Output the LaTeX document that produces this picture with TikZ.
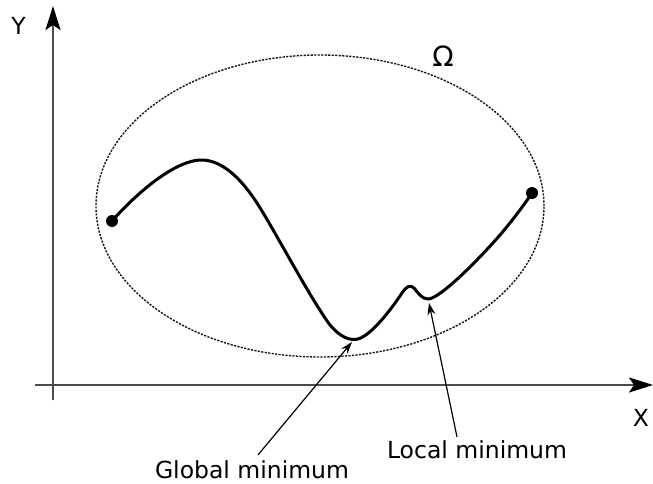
\documentclass[tikz,border=0pt]{standalone}
\usepackage{fontspec}
\setmainfont{DejaVu Sans}
\usepackage{tikz}
\usetikzlibrary{arrows.meta}

\begin{document}
\begin{tikzpicture}[x=1pt, y=1pt,
  axis/.style={line width=2.4pt, draw=black!70,
               -{Stealth[length=24pt, width=15pt, inset=5pt, black]}},
  region/.style={draw=black!90, line width=1.4pt, dash pattern=on 2.2pt off 1.3pt},
  fcurve/.style={line width=3pt, line cap=round, line join=round},
  ptr/.style={line width=1.2pt, -{Stealth[length=12pt, width=8pt]}},
  lbl/.style={font=\fontsize{23.5}{28}\selectfont, inner sep=0pt}]
\useasboundingbox (0,0) rectangle (653,483);
% axes
\coordinate (ybot) at (53,83);
\coordinate (ytop) at (53,477);
\coordinate (xlft) at (35,98);
\coordinate (xrgt) at (653,98);
\draw[axis] (ybot) -- (ytop);
\draw[axis] (xlft) -- (xrgt);
\node[lbl] (ylab) at (18.5,457) {Y};
\node[lbl] (xlab) at (641,65) {X};
% search region
\draw[region] (320,277) ellipse [x radius=224, y radius=151];
\node[lbl, font=\fontsize{28}{32}\selectfont] (omega) at (443,427) {Ω};
% objective function
\draw[fcurve] (112,262)
  .. controls (135,288) and (175,324) .. (203,323)
  .. controls (222,322) and (240,306) .. (257,280)
  .. controls (275,252) and (310,185) .. (330,158)
  .. controls (340,146) and (350,142) .. (358,144)
  .. controls (372,148) and (392,175) .. (402,190)
  .. controls (406,196) and (410,199) .. (414,195)
  .. controls (418,190) and (422,184) .. (428,184)
  .. controls (440,184) and (480,225) .. (500,248)
  .. controls (512,262) and (524,278) .. (532,290);
\fill (112,262) circle (6);
\fill (532,290) circle (6);
\coordinate (gmin) at (352,141);
\coordinate (lmin) at (429,180);
% labels
\node[lbl, anchor=base] (glob) at (252,5) {Global minimum};
\node[lbl, anchor=base] (loc) at (477,25) {Local minimum};
\draw[ptr] ([xshift=6pt, yshift=5pt]glob.north) -- (gmin);
\draw[ptr] ([xshift=-20pt, yshift=3pt]loc.north) -- (lmin);
\end{tikzpicture}
\end{document}
